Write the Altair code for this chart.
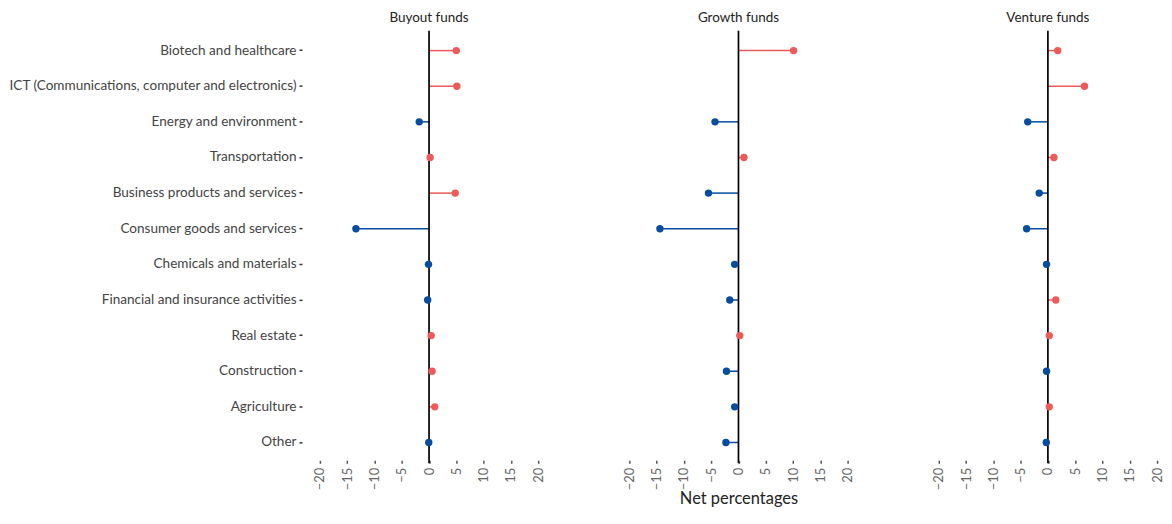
import altair as alt
import pandas as pd

categories = [
    "Biotech and healthcare",
    "ICT (Communications, computer and electronics)",
    "Energy and environment",
    "Transportation",
    "Business products and services",
    "Consumer goods and services",
    "Chemicals and materials",
    "Financial and insurance activities",
    "Real estate",
    "Construction",
    "Agriculture",
    "Other",
]
buyout = [5.0, 5.1, -1.8, 0.2, 4.8, -13.4, -0.1, -0.25, 0.4, 0.55, 1.05, -0.05]
growth = [10.1, None, -4.3, 1.0, -5.5, -14.4, -0.7, -1.6, 0.25, -2.2, -0.7, -2.3]
venture = [1.8, 6.7, -3.7, 1.1, -1.6, -3.9, -0.25, 1.45, 0.25, -0.25, 0.25, -0.3]
panels = ["Buyout funds", "Growth funds", "Venture funds"]
tick_values = [-20, -15, -10, -5, 0, 5, 10, 15, 20]

RED = "#EE5A5A"
BLUE = "#064DA0"
FONT = "Lato"
H = 429


def make_df(values):
    rows = []
    for c, v in zip(categories, values):
        if v is None:
            continue
        rows.append({"category": c, "value": v, "zero": 0, "sign": "pos" if v > 0 else "neg"})
    return pd.DataFrame(rows)


def panel(title, values, show_y, x_title):
    df = make_df(values)
    yscale = alt.Scale(domain=categories, paddingInner=0, paddingOuter=0)
    if show_y:
        yaxis = alt.Axis(
            title=None, domain=False, offset=18, tickSize=3, tickWidth=1.5,
            tickColor="#333", labelPadding=3, labelColor="#444",
            labelFontSize=13.6, labelFont=FONT, labelLimit=400,
        )
    else:
        yaxis = None
    xscale = alt.Scale(domain=[-20, 20], nice=False)
    xaxis = alt.Axis(
        values=tick_values, domain=False, grid=False, labelAngle=-90,
        labelOverlap=False, offset=0,
        labelExpr="replace(format(datum.value, 'd'), '-', '\u2212')",
        tickSize=3, tickWidth=1.5, tickColor="#555", labelColor="#666",
        labelFontSize=13, labelFont=FONT, labelPadding=4,
        title=x_title if x_title else None,
        titleFontSize=16.5, titleFont=FONT, titleColor="#222",
        titleFontWeight="normal", titlePadding=1,
    )
    color = alt.Color("sign:N", scale=alt.Scale(domain=["pos", "neg"], range=[RED, BLUE]), legend=None)
    base = alt.Chart(df)
    stems = base.mark_rule(strokeWidth=1.5).encode(
        x=alt.X("zero:Q", scale=xscale, axis=xaxis),
        x2="value:Q",
        y=alt.Y("category:N", scale=yscale, axis=yaxis, sort=categories),
        color=color,
    )
    zero = alt.Chart(pd.DataFrame({"z": [0]})).mark_rule(color="black", strokeWidth=1.7).encode(
        x=alt.X("z:Q", scale=xscale, axis=xaxis),
        y=alt.value(-2),
        y2=alt.value(H + 3),
    )
    dots = base.mark_circle(size=55, opacity=1).encode(
        x=alt.X("value:Q", scale=xscale, axis=xaxis),
        y=alt.Y("category:N", scale=yscale, axis=yaxis, sort=categories),
        color=color,
    )
    return alt.layer(stems, zero, dots).properties(
        width=219, height=H,
        title=alt.TitleParams(title, fontSize=13.5, font=FONT, fontWeight="normal",
                              color="#222", offset=5, anchor="middle"),
    )


chart = alt.hconcat(
    panel(panels[0], buyout, True, None),
    panel(panels[1], growth, False, "Net percentages"),
    panel(panels[2], venture, False, None),
    spacing=91.5,
    bounds="flush",
).resolve_scale(color="shared").configure_view(stroke=None).properties(
    padding={"left": 0, "top": 2, "right": 0, "bottom": 0}
)

chart.save("out.html", embed_options={"renderer": "svg", "actions": False})
